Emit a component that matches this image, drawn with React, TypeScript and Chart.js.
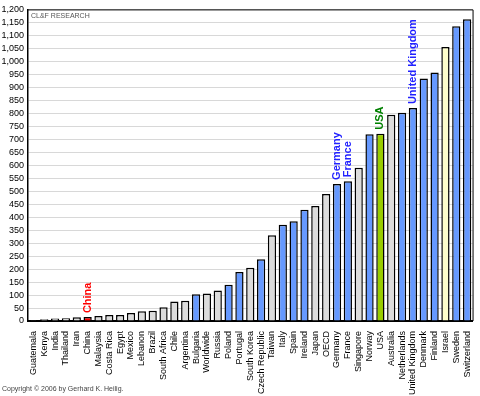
import React, { useEffect, useRef } from "react";
import { Chart, registerables } from "chart.js";

Chart.register(...registerables);

const countries = [
  "Guatemala", "Kenya", "India", "Thailand", "Iran", "China", "Malaysia", "Costa Rica",
  "Egypt", "Mexico", "Lebanon", "Brazil", "South Africa", "Chile", "Argentina", "Bulgaria",
  "Worldwide", "Russia", "Poland", "Portugal", "South Korea", "Czech Republic", "Taiwan",
  "Italy", "Spain", "Ireland", "Japan", "OECD", "Germany", "France", "Singapore", "Norway",
  "USA", "Australia", "Netherlands", "United Kingdom", "Denmark", "Finland", "Israel",
  "Sweden", "Switzerland",
];

const values = [
  3, 7, 10, 11, 14, 15, 19, 23, 23, 31, 38, 39, 53, 75, 78, 103, 106, 117, 140, 189, 205,
  238, 330, 371, 384, 428, 443, 489, 528, 538, 590, 719, 721, 794, 802, 820, 934, 957, 1055,
  1135, 1162,
];

// g = gray, b = blue, r = red, u = green (USA), y = yellow
const groups = [
  "g", "g", "g", "g", "g", "r", "g", "g", "g", "g", "g", "g", "g", "g", "g", "b",
  "g", "g", "b", "b", "g", "b", "g", "b", "b", "b", "g", "g", "b", "b", "g", "b",
  "u", "g", "b", "b", "b", "b", "y", "b", "b",
];

const groupColors: Record<string, string> = {
  g: "#dcdcdc",
  b: "#6699ff",
  r: "#ff0000",
  u: "#99cc00",
  y: "#ffffcc",
};

const highlightNames = ["China", "Germany", "France", "USA", "United Kingdom"];
const highlightColors = ["#ff0000", "#2222ff", "#2222ff", "#008000", "#2222ff"];

const yTicksMax = 1200;
const yTicksStep = 50;

const sourceText = "CL&F RESEARCH";
const copyrightText = "Copyright \u00a9 2006 by Gerhard K. Heilig.";

const overlayPlugin = {
  id: "overlay",
  afterDraw(chart: any) {
    const { ctx, chartArea } = chart;
    const meta = chart.getDatasetMeta(0);
    ctx.save();
    ctx.strokeStyle = "#000";
    ctx.lineWidth = 1;
    ctx.beginPath();
    ctx.moveTo(chartArea.left, chartArea.top + 0.5);
    ctx.lineTo(chartArea.right + 0.5, chartArea.top + 0.5);
    ctx.lineTo(chartArea.right + 0.5, chartArea.bottom);
    ctx.stroke();

    ctx.fillStyle = "#555";
    ctx.font = "7px 'Liberation Sans', Arial, sans-serif";
    ctx.textAlign = "left";
    ctx.textBaseline = "top";
    ctx.fillText(sourceText, chartArea.left + 3, chartArea.top + 3);

    ctx.fillStyle = "#444";
    ctx.font = "7px 'Liberation Sans', Arial, sans-serif";
    ctx.textBaseline = "middle";
    ctx.fillText(copyrightText, 2, 389);

    highlightNames.forEach((name, i) => {
      const idx = countries.indexOf(name);
      if (idx < 0) return;
      const bar = meta.data[idx];
      ctx.save();
      ctx.translate(bar.x, bar.y - 4);
      ctx.rotate(-Math.PI / 2);
      ctx.fillStyle = highlightColors[i];
      ctx.font = "bold 11px 'Liberation Sans', Arial, sans-serif";
      ctx.textAlign = "left";
      ctx.textBaseline = "middle";
      ctx.fillText(name, 0, 0);
      ctx.restore();
    });
    ctx.restore();
  },
};

export default function App() {
  const ref = useRef<HTMLCanvasElement | null>(null);
  useEffect(() => {
    if (!ref.current) return;
    const chart = new Chart(ref.current, {
      type: "bar",
      data: {
        labels: countries,
        datasets: [
          {
            data: values,
            backgroundColor: groups.map((g) => groupColors[g]),
            borderColor: "#000",
            borderWidth: 1.5,
            barPercentage: 0.76,
            categoryPercentage: 1,
          },
        ],
      },
      options: {
        animation: false,
        responsive: false,
        maintainAspectRatio: false,
        layout: { padding: { top: 5, right: 6, left: 0, bottom: 0 } },
        plugins: {
          legend: { display: false },
          tooltip: { enabled: false },
        },
        scales: {
          x: {
            grid: { display: false },
            border: { color: "#000", width: 2 },
            ticks: {
              minRotation: 90,
              maxRotation: 90,
              autoSkip: false,
              color: "#000",
              padding: 2,
              font: { family: "'Liberation Sans', Arial, sans-serif", size: 9 },
            },
            afterFit(s: any) {
              s.height = 75;
            },
          },
          y: {
            min: 0,
            max: yTicksMax,
            grid: { color: "#d8d8d8", drawTicks: false, lineWidth: 1 },
            border: { color: "#000", width: 1.5 },
            ticks: {
              stepSize: yTicksStep,
              autoSkip: false,
              color: "#000",
              padding: 4,
              font: { family: "'Liberation Sans', Arial, sans-serif", size: 9 },
              callback: (v: any) => Number(v).toLocaleString("en-US"),
            },
            afterFit(s: any) {
              s.width = 28;
            },
          },
        },
      },
      plugins: [overlayPlugin],
    });
    return () => chart.destroy();
  }, []);
  return (
    <div style={{ position: "absolute", left: 0, top: 0, width: 480, height: 396, background: "#fff" }}>
      <canvas ref={ref} width={480} height={396} style={{ width: 480, height: 396 }} />
    </div>
  );
}
